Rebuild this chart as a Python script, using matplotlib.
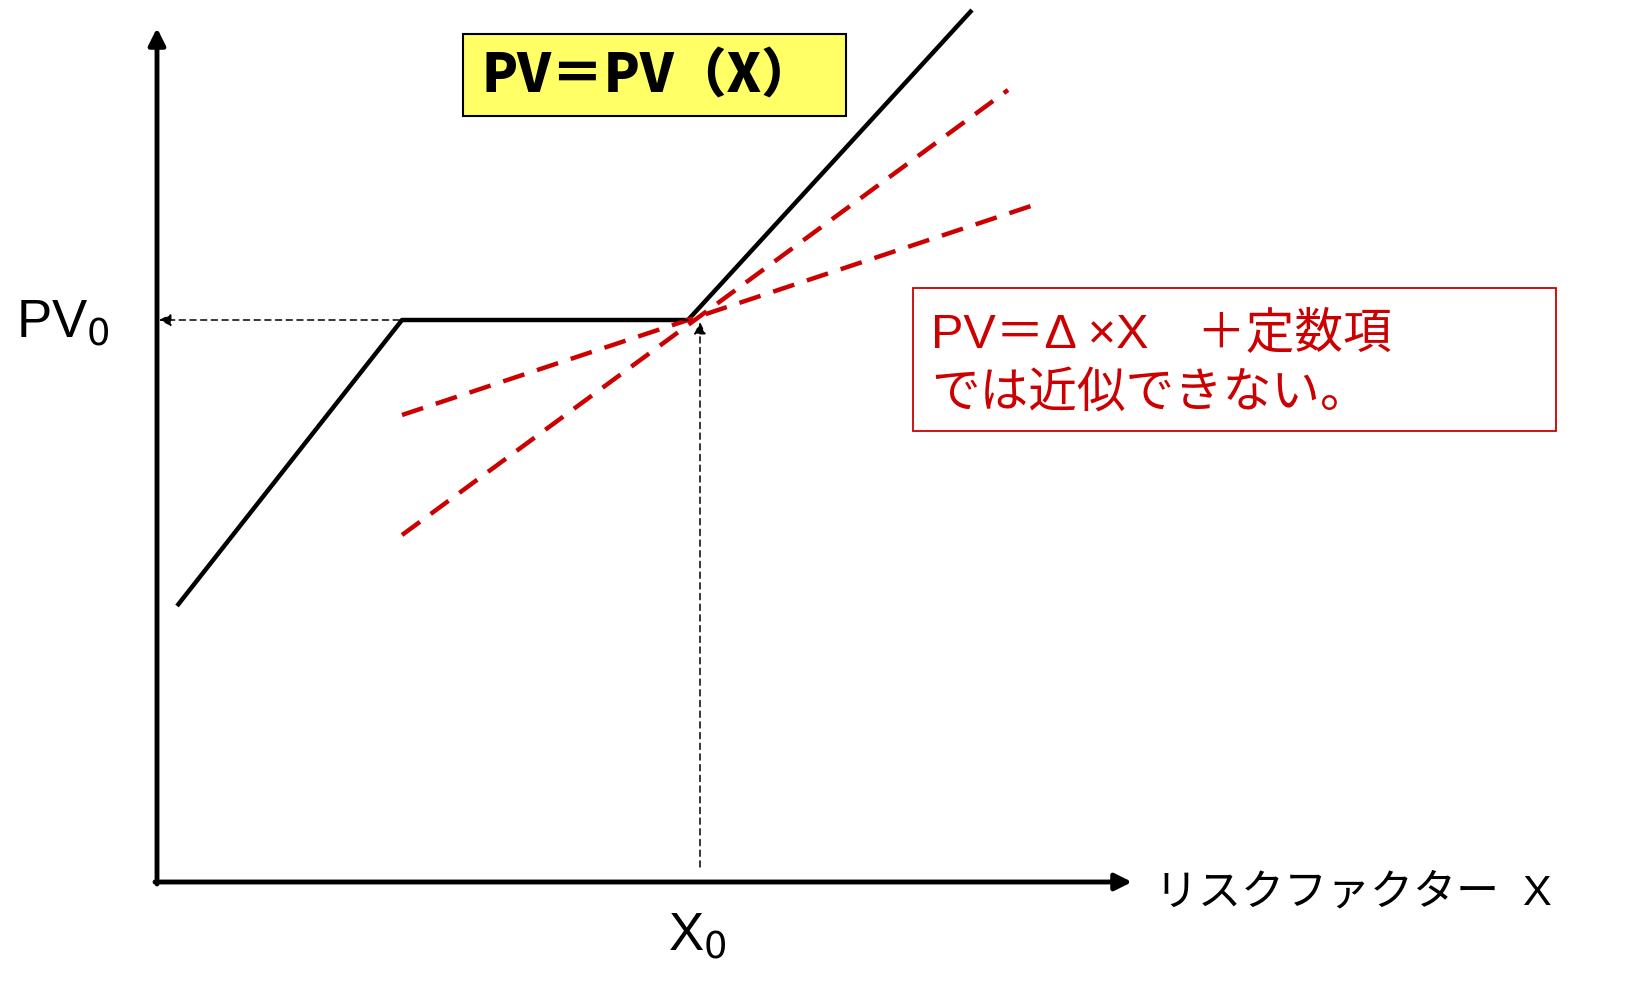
import matplotlib
matplotlib.use("Agg")
import matplotlib.pyplot as plt
from matplotlib.patches import Rectangle

# diagram coordinates are in image pixels (y grows downward)
payoff_x = [177, 402, 688, 972]
payoff_y = [606, 320, 320, 10]

steep_x = [402, 1008]
steep_y = [535, 90]
flat_x = [402, 1040]
flat_y = [415, 203]

x0 = 700
pv0 = 320
origin = (157, 882)
x_axis_end = 1132
y_axis_end = 28

title_text = "PV＝PV（X）"
note_lines = ["PV＝Δ ×X　＋定数項", "では近似できない。"]
x_label = "リスクファクター  X"

RED = "#CC0000"
FONTS = ["Liberation Sans", "Noto Sans CJK JP", "DejaVu Sans"]
plt.rcParams["font.family"] = FONTS

fig = plt.figure(figsize=(16.3, 10.02), dpi=100)
ax = fig.add_axes([0, 0, 1, 1])
ax.set_xlim(0, 1630)
ax.set_ylim(1002, 0)
ax.axis("off")

# axes with arrows
ax.annotate("", xy=(x_axis_end, origin[1]), xytext=(origin[0] - 2, origin[1]),
            arrowprops=dict(arrowstyle="-|>", lw=3.5, color="black",
                            mutation_scale=25, shrinkA=0, shrinkB=0))
ax.annotate("", xy=(origin[0], y_axis_end), xytext=(origin[0], origin[1] + 2),
            arrowprops=dict(arrowstyle="-|>", lw=3.5, color="black",
                            mutation_scale=25, shrinkA=0, shrinkB=0))

# dashed guide arrows
ax.annotate("", xy=(origin[0] + 2, pv0), xytext=(688, pv0),
            arrowprops=dict(arrowstyle="-|>", lw=1.1, ls=(0, (4, 3)), color="black",
                            mutation_scale=18, shrinkA=0, shrinkB=0))
ax.annotate("", xy=(x0, pv0 + 2), xytext=(x0, 867),
            arrowprops=dict(arrowstyle="-|>", lw=1.1, ls=(0, (4, 3)), color="black",
                            mutation_scale=18, shrinkA=0, shrinkB=0))

# payoff curve
ax.plot(payoff_x, payoff_y, color="black", lw=3.2, solid_capstyle="butt")

# linear approximations
ax.plot(steep_x, steep_y, color=RED, lw=3.2, ls=(0, (5, 3)))
ax.plot(flat_x, flat_y, color=RED, lw=3.2, ls=(0, (5, 3)))

# title box
ax.add_patch(Rectangle((463, 34), 383, 82, facecolor="#FFFF66",
                       edgecolor="black", lw=1.5))
ax.text(481, 76, title_text, fontsize=38, fontweight="heavy",
        family=["Noto Sans CJK JP", "DejaVu Sans"], va="center", ha="left")

# note box
ax.add_patch(Rectangle((913, 288), 643, 143, facecolor="white",
                       edgecolor=RED, lw=1.3))
ax.text(931, 334, note_lines[0], fontsize=35, color=RED, va="center", ha="left")
ax.text(931, 393, note_lines[1], fontsize=35, color=RED, va="center", ha="left",
        family=["Noto Sans CJK JP", "DejaVu Sans"])

# labels
ax.text(16, 324, r"PV$_0$", fontsize=38, va="center", ha="left")
ax.text(668, 937, r"X$_0$", fontsize=38, va="center", ha="left")
ax.text(1155, 893, x_label, fontsize=31, va="center", ha="left")

fig.savefig("out.png", dpi=100)
